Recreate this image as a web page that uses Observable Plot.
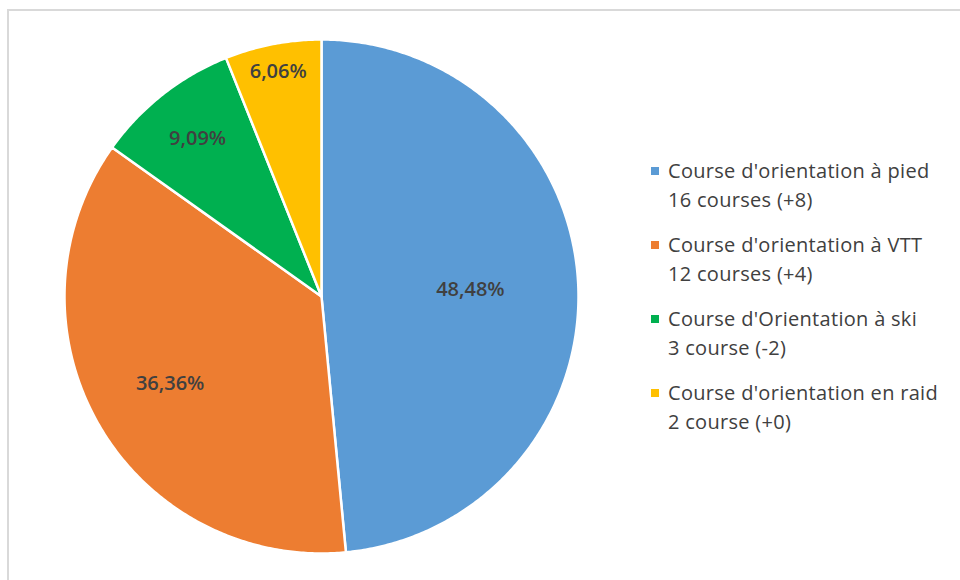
<!DOCTYPE html>
<html><head><meta charset="utf-8">
<script src="https://cdn.jsdelivr.net/npm/d3@7"></script>
<script src="https://cdn.jsdelivr.net/npm/@observablehq/plot@0.6"></script>
<style>
body{margin:0;background:#fff;font-family:"Open Sans",sans-serif;}
#wrap{position:relative;width:960px;height:580px;overflow:hidden;background:#fff;}
#frame{position:absolute;left:7px;top:9px;width:1200px;height:1200px;border-top:2px solid #d9d9d9;border-left:2px solid #d9d9d9;}
#chart{position:absolute;left:0;top:0;}
#legend{position:absolute;left:651px;top:156px;color:#404040;font-size:20px;letter-spacing:0.3px;}
.item{display:flex;align-items:flex-start;margin-bottom:16px;}
.sw{width:8px;height:8px;margin-top:11px;margin-right:9px;flex:none;}
.txt{line-height:29px;white-space:nowrap;}
</style>
</head><body>
<div id="wrap"><div id="frame"></div><div id="chart"></div><div id="legend"></div></div>
<script>
const categories = ["Course d'orientation à pied", "Course d'orientation à VTT", "Course d'Orientation à ski", "Course d'orientation en raid"];
const counts = [16, 12, 3, 2];
const subLabels = ["16 courses (+8)", "12 courses (+4)", "3 course (-2)", "2 course (+0)"];
const colors = ["#5B9BD5", "#ED7D31", "#00B050", "#FFC000"];
const labelRadius = [0.58, 0.68, 0.78, 0.89];

const total = d3.sum(counts);
const rows = categories.map((name, i) => ({name, count: counts[i], i}));
const arcs = d3.pie().sort(null).value(d => d.count)(rows);

// polygon outline of each slice (center -> arc -> center)
const pts = [];
for (const a of arcs) {
  const n = Math.max(2, Math.ceil((a.endAngle - a.startAngle) / (Math.PI * 2) * 720));
  pts.push({name: a.data.name, x: 0, y: 0});
  for (let k = 0; k <= n; k++) {
    const t = a.startAngle + (a.endAngle - a.startAngle) * k / n;
    pts.push({name: a.data.name, x: Math.sin(t), y: Math.cos(t)});
  }
  pts.push({name: a.data.name, x: 0, y: 0});
}
const labels = arcs.map(a => {
  const m = (a.startAngle + a.endAngle) / 2, r = labelRadius[a.data.i];
  return {x: r * Math.sin(m), y: r * Math.cos(m),
    text: (a.data.count / total * 100).toFixed(2).replace(".", ",") + "%"};
});

const chart = Plot.plot({
  width: 960, height: 580,
  marginLeft: 64, marginRight: 382, marginTop: 39, marginBottom: 27,
  x: {domain: [-1, 1], axis: null},
  y: {domain: [-1, 1], axis: null},
  color: {domain: categories, range: colors},
  style: {background: "transparent", overflow: "visible"},
  marks: [
    Plot.line(pts, {x: "x", y: "y", z: "name", fill: "name", stroke: "white", strokeWidth: 2.5, strokeLinejoin: "round", curve: "linear"}),
    Plot.text(labels, {x: "x", y: "y", text: "text", fill: "#404040", fontSize: 20, fontWeight: 600, fontFamily: "Open Sans"})
  ]
});
document.getElementById("chart").appendChild(chart);

const leg = d3.select("#legend");
categories.forEach((c, i) => {
  const it = leg.append("div").attr("class", "item");
  it.append("div").attr("class", "sw").style("background", colors[i]);
  it.append("div").attr("class", "txt").html(c + "<br>" + subLabels[i]);
});
</script>
</body></html>
